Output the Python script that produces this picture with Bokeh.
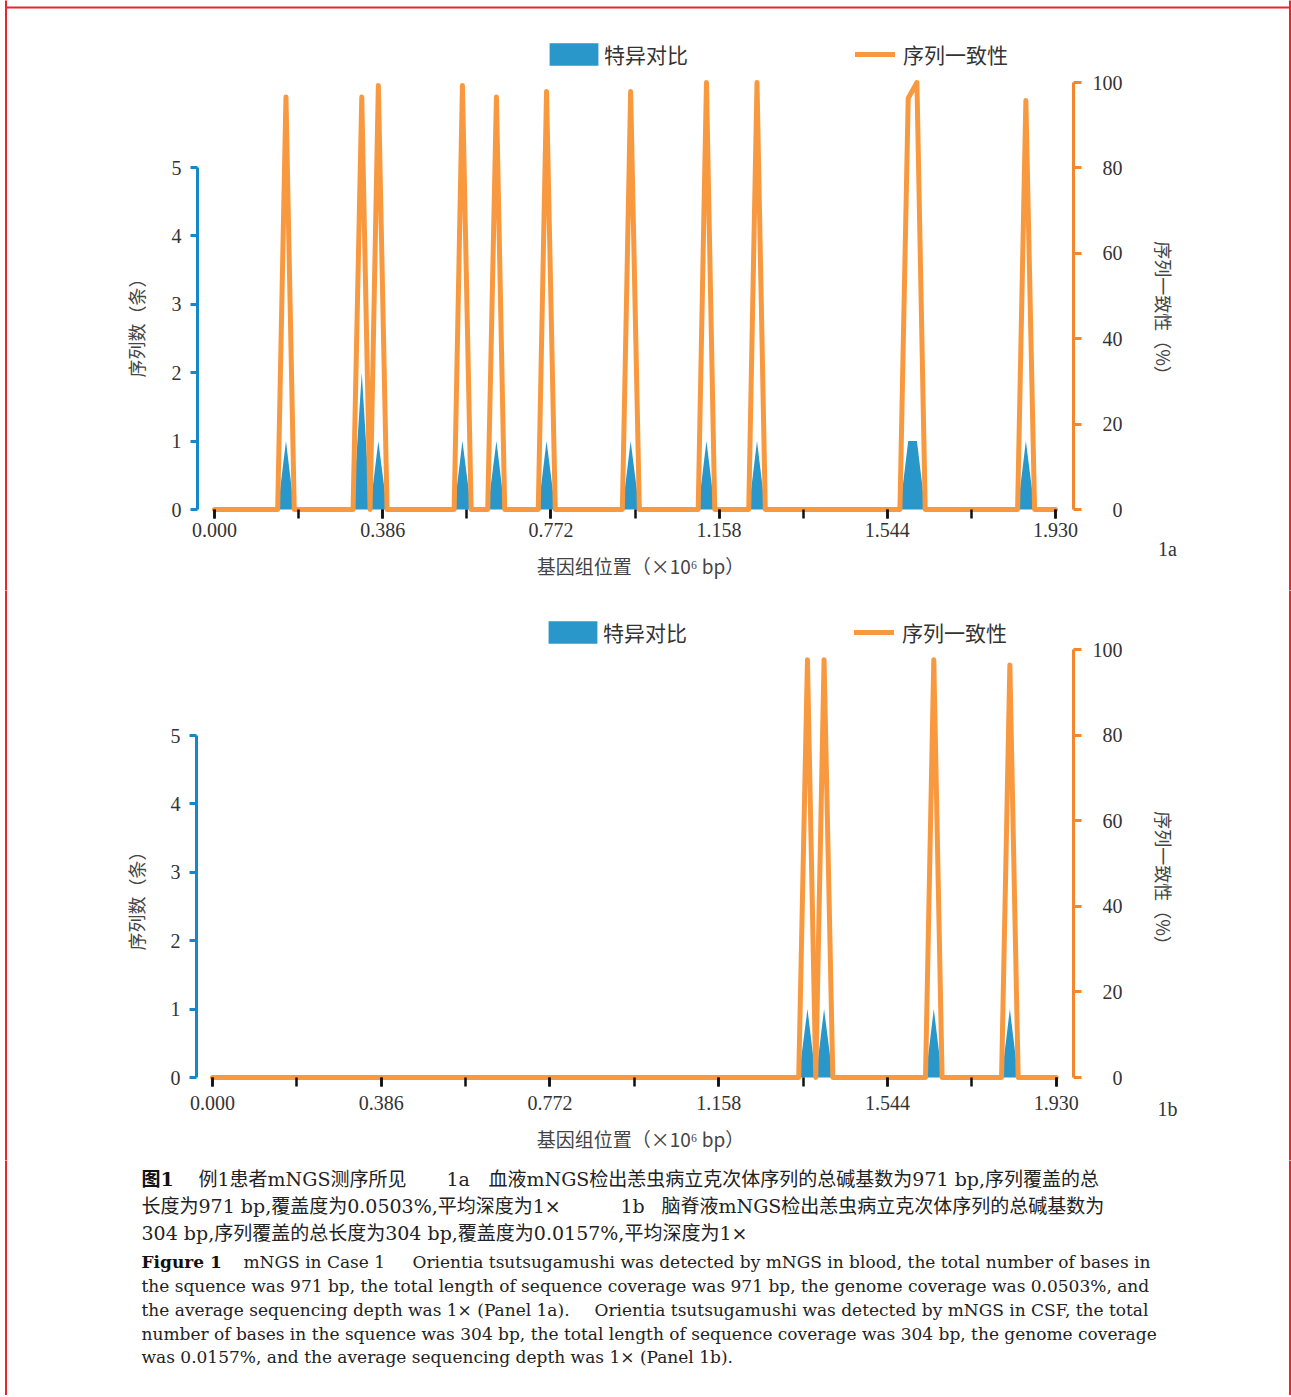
from math import pi
from bokeh.plotting import figure
from bokeh.models import (Range1d, LinearAxis, FixedTicker, Legend, LegendItem,
                          ColumnDataSource, PrintfTickFormatter)
from bokeh.layouts import column
from bokeh.core.properties import value
from bokeh.embed import file_html
from bokeh.resources import INLINE

# ---------------- data ----------------
x_tick_values = [0.000, 0.193, 0.386, 0.579, 0.772, 0.965, 1.158, 1.351, 1.544, 1.737, 1.930]
x_label_values = [0.000, 0.386, 0.772, 1.158, 1.544, 1.930]
left_ticks = [0, 1, 2, 3, 4, 5]
right_ticks = [0, 20, 40, 60, 80, 100]
right_tick_labels = ["0", "20", "40", "60", "80", "100"]
series_names = ["特异对比", "序列一致性"]
x_title = "基因组位置（×10⁶ bp）"
left_title = "序列数（条）"
right_title = "序列一致性（%）"

# panel 1a (blood): genome position (x10^6 bp), read count, sequence identity (%)
pos_1a = [0.000, 0.145, 0.164, 0.183, 0.318, 0.338, 0.357, 0.376, 0.396, 0.550, 0.569, 0.589,
          0.627, 0.647, 0.666, 0.743, 0.762, 0.782, 0.936, 0.955, 0.975, 1.110, 1.129, 1.148,
          1.226, 1.245, 1.264, 1.573, 1.592, 1.612, 1.631, 1.843, 1.862, 1.882, 1.930]
reads_1a = [0, 0, 1, 0, 0, 2, 0, 1, 0, 0, 1, 0,
            0, 1, 0, 0, 1, 0, 0, 1, 0, 0, 1, 0,
            0, 1, 0, 0, 1, 1, 0, 0, 1, 0, 0]
identity_1a = [0, 0, 96.6, 0, 0, 96.6, 0, 99.3, 0, 0, 99.3, 0,
               0, 96.6, 0, 0, 97.9, 0, 0, 97.9, 0, 0, 100, 0,
               0, 100, 0, 0, 96.3, 100, 0, 0, 95.8, 0, 0]

# panel 1b (CSF)
pos_1b = [0.000, 1.341, 1.361, 1.380, 1.399, 1.419, 1.631, 1.650, 1.669, 1.805, 1.824, 1.843, 1.930]
reads_1b = [0, 0, 1, 0, 1, 0, 0, 1, 0, 0, 1, 0, 0]
identity_1b = [0, 0, 97.6, 0, 97.6, 0, 0, 97.6, 0, 0, 96.4, 0, 0]

# ---------------- style ----------------
BLUE_FILL = "#2A97CA"
BLUE_AXIS = "#1488CB"
ORANGE_LINE = "#F8993F"
ORANGE_AXIS = "#F4872C"
RED = "#E8262D"
TXT = "#333333"
SERIF = "Liberation Serif"
CJK = "Noto Sans CJK SC"
FIG_W = 1291
BORDER_L, BORDER_R, BORDER_T = 5.5, 1289.5, 7


def make_panel(pos, reads, ident, g, tag, top_border):
    x_max = x_tick_values[-1]
    pxu = (g["x1"] - g["x0"]) / x_max
    lpu = (g["y0"] - g["y5"]) / left_ticks[-1]
    rpu = (g["y0"] - g["y100"]) / right_ticks[-1]

    def dx(px):
        return (px - g["x0"]) / pxu

    def dyl(py):
        return (g["y0"] - py) / lpu

    def dyr(py):
        return (g["y0"] - py) / rpu

    top, bot = g["top"], g["top"] + g["h"]
    p = figure(width=FIG_W, height=g["h"],
               x_range=Range1d(dx(0), dx(FIG_W)), y_range=Range1d(dyl(bot), dyl(top)),
               output_backend="svg", toolbar_location=None,
               x_axis_location=None, y_axis_location=None, min_border=0)
    p.extra_y_ranges = {"right": Range1d(dyr(bot), dyr(top))}
    p.grid.visible = False
    p.outline_line_color = None
    p.background_fill_color = "white"
    p.border_fill_color = "white"

    # page border (red frame), drawn past the figure edges so it is continuous
    p.segment(x0=[dx(BORDER_L), dx(BORDER_R)], y0=[dyl(top - 10)] * 2,
              x1=[dx(BORDER_L), dx(BORDER_R)], y1=[dyl(bot + 10)] * 2,
              line_color=RED, line_width=2)
    if top_border:
        p.segment(x0=[dx(BORDER_L)], y0=[dyl(BORDER_T)], x1=[dx(BORDER_R)], y1=[dyl(BORDER_T)],
                  line_color=RED, line_width=2)

    src = ColumnDataSource(dict(pos=pos, reads=reads, ident=ident))
    area = p.varea(x="pos", y1=0, y2="reads", source=src, fill_color=BLUE_FILL)
    line = p.line(x="pos", y="ident", source=src, y_range_name="right",
                  line_color=ORANGE_LINE, line_width=5, line_join="round", line_cap="round")

    # x axis (fixed at y = 0)
    xa = LinearAxis(fixed_location=0, bounds=(x_tick_values[0], x_max),
                    ticker=FixedTicker(ticks=x_label_values, minor_ticks=x_tick_values),
                    formatter=PrintfTickFormatter(format="%.3f"))
    xa.axis_line_color = None
    xa.major_tick_line_color = "#111111"
    xa.major_tick_line_width = 2.5
    xa.major_tick_in = 0
    xa.major_tick_out = 9
    xa.minor_tick_line_color = "#111111"
    xa.minor_tick_line_width = 2.5
    xa.minor_tick_in = 0
    xa.minor_tick_out = 9
    xa.major_label_text_font = SERIF
    xa.major_label_text_font_size = "20px"
    xa.major_label_text_color = TXT
    xa.major_label_standoff = g["xstand"]
    p.add_layout(xa, "below")

    # left axis
    ya = LinearAxis(fixed_location=dx(g["axl"]), ticker=FixedTicker(ticks=left_ticks),
                    bounds=(left_ticks[0], left_ticks[-1]))
    ya.axis_line_color = BLUE_AXIS
    ya.axis_line_width = 3
    ya.major_tick_line_color = BLUE_AXIS
    ya.major_tick_line_width = 3
    ya.major_tick_in = 0
    ya.major_tick_out = 7
    ya.minor_tick_line_color = None
    ya.major_label_text_font = SERIF
    ya.major_label_text_font_size = "20px"
    ya.major_label_text_color = TXT
    ya.major_label_standoff = 9
    p.add_layout(ya, "left")

    # right axis
    ra = LinearAxis(y_range_name="right", fixed_location=dx(g["axr"]),
                    ticker=FixedTicker(ticks=right_ticks),
                    bounds=(right_ticks[0], right_ticks[-1]))
    ra.axis_line_color = ORANGE_AXIS
    ra.axis_line_width = 3
    ra.major_tick_line_color = ORANGE_AXIS
    ra.major_tick_line_width = 3
    ra.major_tick_in = 0
    ra.major_tick_out = 8
    ra.minor_tick_line_color = None
    ra.major_label_text_color = None
    p.add_layout(ra, "right")

    # right tick labels, right-aligned like the reference
    p.text(x=dx(1122), y=right_ticks, text=right_tick_labels, y_range_name="right",
           text_align="right", text_baseline="middle", text_font=value(SERIF),
           text_font_size=value("20px"), text_color=TXT)

    # titles
    title_kw = dict(text_align="center", text_baseline="middle", text_font=value(CJK),
                    text_color="#444444")
    p.text(x=[dx(640)], y=[dyl(g["xtitle"])], text=[x_title], text_font_size=value("19px"),
           **title_kw)
    p.text(x=[dx(135)], y=[dyl(g["ltitle"])], text=[left_title], angle=pi / 2,
           text_font_size=value("18px"), **title_kw)
    p.text(x=[dx(1163)], y=[dyl(g["rtitle"])], text=[right_title], angle=-pi / 2,
           text_font_size=value("18px"), **title_kw)
    p.text(x=[dx(1167)], y=[dyl(g["tagy"])], text=[tag], text_align="center",
           text_baseline="middle", text_font=value(SERIF), text_font_size=value("20px"),
           text_color=TXT)

    # legends
    lc = g["legy"]
    common = dict(orientation="horizontal", padding=0, margin=0, spacing=0,
                  border_line_color=None, background_fill_alpha=0,
                  label_text_font=CJK, label_text_font_size="21px", label_text_color=TXT,
                  glyph_height=28, label_height=28)
    leg1 = Legend(items=[LegendItem(label=series_names[0], renderers=[area])],
                  location=(g["leg1x"] - 6.1, bot - (lc + 14)),
                  glyph_width=61, label_standoff=0, **common)
    leg2 = Legend(items=[LegendItem(label=series_names[1], renderers=[line])],
                  location=(g["leg2x"], bot - (lc + 14)),
                  glyph_width=40, label_standoff=8, **common)
    p.add_layout(leg1)
    p.add_layout(leg2)
    return p


geom_a = dict(top=0, h=590, axl=197, axr=1073, x0=214, x1=1055, y0=509, y5=167, y100=82,
              xstand=4, xtitle=565, ltitle=323, rtitle=312, tagy=548, legy=55,
              leg1x=549, leg2x=855)
geom_b = dict(top=590, h=570, axl=196, axr=1073, x0=212, x1=1055.7, y0=1077, y5=735, y100=649,
              xstand=9, xtitle=1138, ltitle=896, rtitle=882, tagy=1108, legy=633,
              leg1x=548, leg2x=854)

p1 = make_panel(pos_1a, reads_1a, identity_1a, geom_a, "1a", True)
p2 = make_panel(pos_1b, reads_1b, identity_1b, geom_b, "1b", False)

# ---------------- caption ----------------
CAP_TOP, CAP_H = 1160, 235
cap = figure(width=FIG_W, height=CAP_H, x_range=Range1d(0, FIG_W),
             y_range=Range1d(CAP_TOP + CAP_H, CAP_TOP), output_backend="svg",
             toolbar_location=None, x_axis_location=None, y_axis_location=None, min_border=0)
cap.grid.visible = False
cap.outline_line_color = None
cap.background_fill_color = "white"
cap.border_fill_color = "white"
cap.segment(x0=[BORDER_L, BORDER_R], y0=[CAP_TOP - 10] * 2, x1=[BORDER_L, BORDER_R],
            y1=[CAP_TOP + CAP_H + 10] * 2, line_color=RED, line_width=2)

CN_FONT = "DejaVu Serif, Noto Sans CJK SC"
EN_FONT = "DejaVu Serif"

cn_bold = [("图1", 141, 1178)]
cn_text = [
    ("例1患者mNGS测序所见", 198, 1178),
    ("1a", 446, 1178),
    ("血液mNGS检出恙虫病立克次体序列的总碱基数为971 bp,序列覆盖的总", 488, 1178),
    ("长度为971 bp,覆盖度为0.0503%,平均深度为1×", 141, 1205),
    ("1b", 620, 1205),
    ("脑脊液mNGS检出恙虫病立克次体序列的总碱基数为", 661, 1205),
    ("304 bp,序列覆盖的总长度为304 bp,覆盖度为0.0157%,平均深度为1×", 141, 1232),
]
en_bold = [("Figure 1", 141, 1261)]
en_text = [
    ("mNGS in Case 1", 243, 1261),
    ("Orientia tsutsugamushi was detected by mNGS in blood, the total number of bases in", 412, 1261),
    ("the squence was 971 bp, the total length of sequence coverage was 971 bp, the genome coverage was 0.0503%, and", 141, 1285),
    ("the average sequencing depth was 1× (Panel 1a).", 141, 1309),
    ("Orientia tsutsugamushi was detected by mNGS in CSF, the total", 594, 1309),
    ("number of bases in the squence was 304 bp, the total length of sequence coverage was 304 bp, the genome coverage", 141, 1333),
    ("was 0.0157%, and the average sequencing depth was 1× (Panel 1b).", 141, 1356),
]


def put(rows, font, size, style, color):
    cap.text(x=[r[1] for r in rows], y=[r[2] for r in rows], text=[r[0] for r in rows],
             text_font=value(font), text_font_size=value(size), text_font_style=style,
             text_baseline="middle", text_color=color)


put(cn_bold, CN_FONT, "19px", "bold", "#111111")
put(cn_text, CN_FONT, "19px", "normal", "#222222")
put(en_bold, EN_FONT, "17px", "bold", "#111111")
put(en_text, EN_FONT, "17px", "normal", "#222222")

layout = column(p1, p2, cap, spacing=0)

open("out.html", "w").write(file_html(layout, INLINE))
